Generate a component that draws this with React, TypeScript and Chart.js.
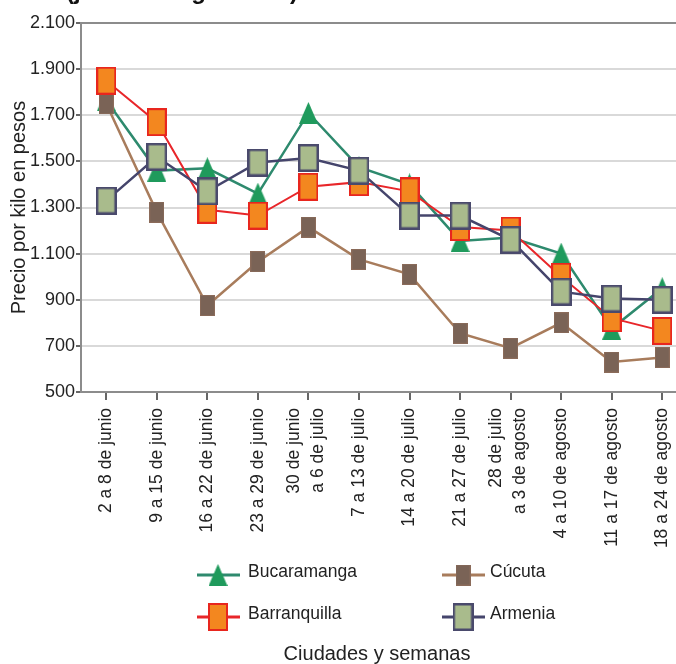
import React, { useEffect, useRef } from "react";
import { Chart, registerables } from "chart.js";

Chart.register(...registerables);

const weeks: string[][] = [
  ["2 a 8 de junio"],
  ["9 a 15 de junio"],
  ["16 a 22 de junio"],
  ["23 a 29 de junio"],
  ["30 de junio", "a 6 de julio"],
  ["7 a 13 de julio"],
  ["14 a 20 de julio"],
  ["21 a 27 de julio"],
  ["28 de julio", "a 3 de agosto"],
  ["4 a 10 de agosto"],
  ["11 a 17 de agosto"],
  ["18 a 24 de agosto"],
];

const bucaramanga = [1765, 1460, 1470, 1360, 1710, 1475, 1400, 1155, 1170, 1100, 775, 950];
const cucuta = [1750, 1280, 875, 1065, 1215, 1075, 1010, 755, 690, 800, 630, 650];
const barranquilla = [1850, 1670, 1290, 1265, 1390, 1410, 1370, 1215, 1200, 1000, 820, 765];
const armenia = [1330, 1520, 1370, 1495, 1515, 1460, 1265, 1265, 1160, 935, 905, 900];

const yTicks = [500, 700, 900, 1100, 1300, 1500, 1700, 1900, 2100];

const FONT = "'Liberation Sans', Arial, sans-serif";

function rectMarker(w: number, h: number, fill: string, stroke: string, lw: number) {
  const c = document.createElement("canvas");
  c.width = w;
  c.height = h;
  const g = c.getContext("2d")!;
  g.fillStyle = fill;
  g.fillRect(0, 0, w, h);
  if (lw > 0) {
    g.strokeStyle = stroke;
    g.lineWidth = lw;
    g.strokeRect(lw / 2, lw / 2, w - lw, h - lw);
  }
  return c;
}

function triMarker(w: number, h: number, fill: string) {
  const c = document.createElement("canvas");
  c.width = w;
  c.height = h;
  const g = c.getContext("2d")!;
  g.fillStyle = fill;
  g.beginPath();
  g.moveTo(w / 2, 0);
  g.lineTo(w, h);
  g.lineTo(0, h);
  g.closePath();
  g.fill();
  return c;
}

export default function App() {
  const ref = useRef<HTMLCanvasElement>(null);

  useEffect(() => {
    if (!ref.current) return;
    const mTri = triMarker(19, 22, "#1f9a5c");
    const mCuc = rectMarker(15, 21, "#7a6356", "#8b6b5a", 1);
    const mBar = rectMarker(20, 28, "#f3871f", "#e8261e", 2);
    const mArm = rectMarker(21, 28, "#a9bb8c", "#4a4a6c", 2.5);

    const series = [
      { label: "Bucaramanga", data: bucaramanga, color: "#2e8a6e", marker: mTri, order: 3, lw: 2.5 },
      { label: "Cúcuta", data: cucuta, color: "#a87c5c", marker: mCuc, order: 2, lw: 2.5 },
      { label: "Barranquilla", data: barranquilla, color: "#e8262a", marker: mBar, order: 1, lw: 2 },
      { label: "Armenia", data: armenia, color: "#45456c", marker: mArm, order: 0, lw: 2.5 },
    ];

    const labelPlugin = {
      id: "customText",
      afterDraw(chart: any) {
        const ctx = chart.ctx;
        const ca = chart.chartArea;
        const xs = chart.scales.x;
        ctx.save();
        // partially visible heading at top
        ctx.fillStyle = "#111";
        ctx.font = `bold 24px ${FONT}`;
        ctx.textBaseline = "alphabetic";
        ctx.textAlign = "left";
        ctx.fillText("(junio 2 a agosto 24)", 66, -1);

        // x tick labels (rotated, reading upward)
        ctx.fillStyle = "#222";
        ctx.font = `17.5px ${FONT}`;
        ctx.textAlign = "right";
        ctx.textBaseline = "middle";
        weeks.forEach((lines, i) => {
          const x = xs.getPixelForTick(i);
          const offs = lines.length === 1 ? [0] : [-14, 10];
          lines.forEach((ln, j) => {
            ctx.save();
            ctx.translate(x + offs[j], ca.bottom + 16);
            ctx.rotate(-Math.PI / 2);
            ctx.fillText(ln, 0, 0);
            ctx.restore();
          });
        });

        // legend
        const cols = [ca.left + 116, ca.left + 361];
        const rows = [ca.bottom + 183, ca.bottom + 225];
        const pos = [
          [0, 0],
          [1, 0],
          [0, 1],
          [1, 1],
        ];
        series.forEach((s, i) => {
          const x = cols[pos[i][0]];
          const y = rows[pos[i][1]];
          ctx.strokeStyle = s.color;
          ctx.lineWidth = 3;
          ctx.beginPath();
          ctx.moveTo(x, y);
          ctx.lineTo(x + 43, y);
          ctx.stroke();
          const m = s.marker;
          ctx.drawImage(m, x + 21 - m.width / 2, y - m.height / 2);
          ctx.fillStyle = "#222";
          ctx.font = `17.5px ${FONT}`;
          ctx.textBaseline = "middle";
          ctx.textAlign = "left";
          ctx.fillText(s.label, x + (i % 2 === 1 ? 48 : 51), y - 3);
        });
        ctx.fillStyle = "#222";
        ctx.font = `20px ${FONT}`;
        ctx.textAlign = "center";
        ctx.textBaseline = "middle";
        ctx.fillText("Ciudades y semanas", ca.left + 296, ca.bottom + 262);
        ctx.restore();
      },
    };

    const chart = new Chart(ref.current, {
      type: "line",
      data: {
        labels: weeks.map((w) => w.join(" ")),
        datasets: series.map((s) => ({
          label: s.label,
          data: s.data,
          borderColor: s.color,
          backgroundColor: s.color,
          borderWidth: s.lw,
          pointStyle: s.marker as any,
          pointRadius: 10,
          order: s.order,
          tension: 0,
        })),
      },
      options: {
        animation: false,
        responsive: true,
        maintainAspectRatio: false,
        layout: { padding: { top: 23, bottom: 112, left: 0, right: 9 } },
        plugins: {
          legend: { display: false },
          tooltip: { enabled: false },
          title: { display: false },
        },
        scales: {
          x: {
            offset: true,
            grid: {
              display: true,
              drawOnChartArea: false,
              drawTicks: true,
              tickLength: 8,
              tickColor: "#666",
              lineWidth: 2,
            },
            border: { display: true, color: "#8c8c8c", width: 2 },
            ticks: {
              display: false,
              autoSkip: false,
            },
            afterFit(scale: any) {
              scale.height = 160;
            },
          },
          y: {
            min: yTicks[0],
            max: yTicks[yTicks.length - 1],
            afterBuildTicks(scale: any) {
              scale.ticks = yTicks.map((v) => ({ value: v }));
            },
            grid: {
              color: (c: any) => (c.tick && c.tick.value === 2100 ? "#8c8c8c" : "#d9d9d9"),
              lineWidth: 2,
              tickLength: 5,
              tickColor: "#666",
            },
            border: { display: true, color: "#8c8c8c", width: 2 },
            ticks: {
              padding: 1,
              color: "#222",
              font: { family: FONT, size: 18 },
              callback: (v: any) => Number(v).toLocaleString("de-DE"),
            },
            title: {
              display: true,
              text: "Precio por kilo en pesos",
              color: "#222",
              font: { family: FONT, size: 20 },
              padding: { top: 7, bottom: 0 },
            },
            afterFit(scale: any) {
              scale.width = 81;
            },
          },
        },
      },
      plugins: [labelPlugin],
    });
    return () => chart.destroy();
  }, []);

  return (
    <div
      style={{
        position: "fixed",
        left: 0,
        top: 0,
        width: 676,
        height: 664,
        overflow: "hidden",
        background: "#fff",
      }}
    >
      <div style={{ position: "relative", width: 700, height: 664 }}>
        <canvas ref={ref} />
      </div>
    </div>
  );
}
